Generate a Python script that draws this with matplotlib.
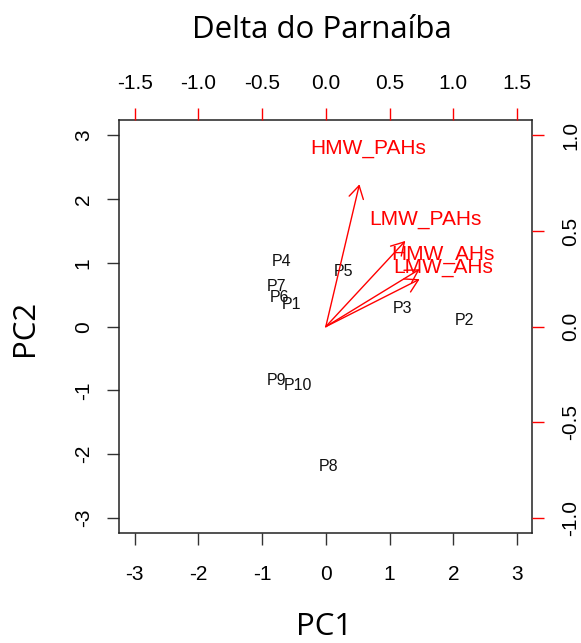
import matplotlib
matplotlib.use('Agg')
import matplotlib.pyplot as plt
from matplotlib.patches import FancyArrowPatch

# sample scores (PC1, PC2)
sample_labels = ['P1', 'P2', 'P3', 'P4', 'P5', 'P6', 'P7', 'P8', 'P9', 'P10']
pc1 = [-0.54, 2.18, 1.21, -0.69, 0.27, -0.72, -0.78, 0.04, -0.78, -0.43]
pc2 = [0.34, 0.09, 0.29, 1.02, 0.86, 0.46, 0.63, -2.20, -0.84, -0.92]

# variable loadings (top / right axis units)
var_labels = ['HMW_PAHs', 'LMW_PAHs', 'HMW_AHs', 'LMW_AHs']
load1 = [0.33, 0.78, 0.92, 0.92]
load2 = [0.93, 0.56, 0.375, 0.31]

score_ticks = [-3, -2, -1, 0, 1, 2, 3]
top_ticks = [-1.5, -1.0, -0.5, 0.0, 0.5, 1.0, 1.5]
right_ticks = [-1.0, -0.5, 0.0, 0.5, 1.0]

LIM = 3.24
XRATIO = 2.0
YRATIO = 3.0

TICK_FS = 15
SAMPLE_FS = 11.5
VAR_FS = 15
RED = '#ff0000'

plt.rcParams['font.family'] = 'Liberation Sans'

fig = plt.figure(figsize=(5.81, 6.43), dpi=100)
pos = [0.2053, 0.1706, 0.7109, 0.6428]

ax = fig.add_axes(pos)
ax.set_xlim(-LIM, LIM)
ax.set_ylim(-LIM, LIM)
ax.set_xticks(score_ticks)
ax.set_yticks(score_ticks)
ax.set_xticklabels([str(t) for t in score_ticks])
ax.set_yticklabels([str(t) for t in score_ticks], rotation=90, va='center')
ax.tick_params(length=8.6, width=1, labelsize=TICK_FS, color='#333333')
ax.tick_params(axis='x', pad=14)
ax.tick_params(axis='y', pad=10.5)
for s in ax.spines.values():
    s.set_color('#222222')
    s.set_linewidth(1.1)

for lab, x, y in zip(sample_labels, pc1, pc2):
    ax.text(x, y, lab, ha='center', va='center', fontsize=SAMPLE_FS, color='#111111')

# overlay axes for the loadings
ax2 = fig.add_axes(pos, frameon=False)
ax2.patch.set_visible(False)
ax2.set_xlim(-LIM / XRATIO, LIM / XRATIO)
ax2.set_ylim(-LIM / YRATIO, LIM / YRATIO)
ax2.xaxis.tick_top()
ax2.yaxis.tick_right()
ax2.set_xticks(top_ticks)
ax2.set_yticks(right_ticks)
ax2.set_xticklabels(['%.1f' % t for t in top_ticks])
ax2.set_yticklabels(['%.1f' % t for t in right_ticks], rotation=90, va='center')
ax2.tick_params(length=8.6, width=1, labelsize=TICK_FS, color=RED)
ax2.tick_params(axis='x', pad=10.5)
ax2.tick_params(axis='y', pad=12.5)

for lab, x, y in zip(var_labels, load1, load2):
    arr = FancyArrowPatch((0, 0), (0.8 * x, 0.8 * y),
                          arrowstyle='->,head_length=0.6,head_width=0.35',
                          mutation_scale=15, color=RED, lw=1.0,
                          shrinkA=0, shrinkB=0)
    ax2.add_patch(arr)
    ax2.text(x, y, lab, ha='center', va='center', fontsize=VAR_FS, color=RED)

fig.text(0.5537, 0.941, 'Delta do Parnaíba', ha='center', va='baseline',
         fontsize=22.5, family='Open Sans')
fig.text(0.5577, 0.0249, 'PC1', ha='center', va='center', fontsize=22.5, family='Open Sans')
fig.text(0.043, 0.49, 'PC2', ha='center', va='center', rotation=90,
         fontsize=22.5, family='Open Sans')

fig.savefig('out.png', dpi=100)
